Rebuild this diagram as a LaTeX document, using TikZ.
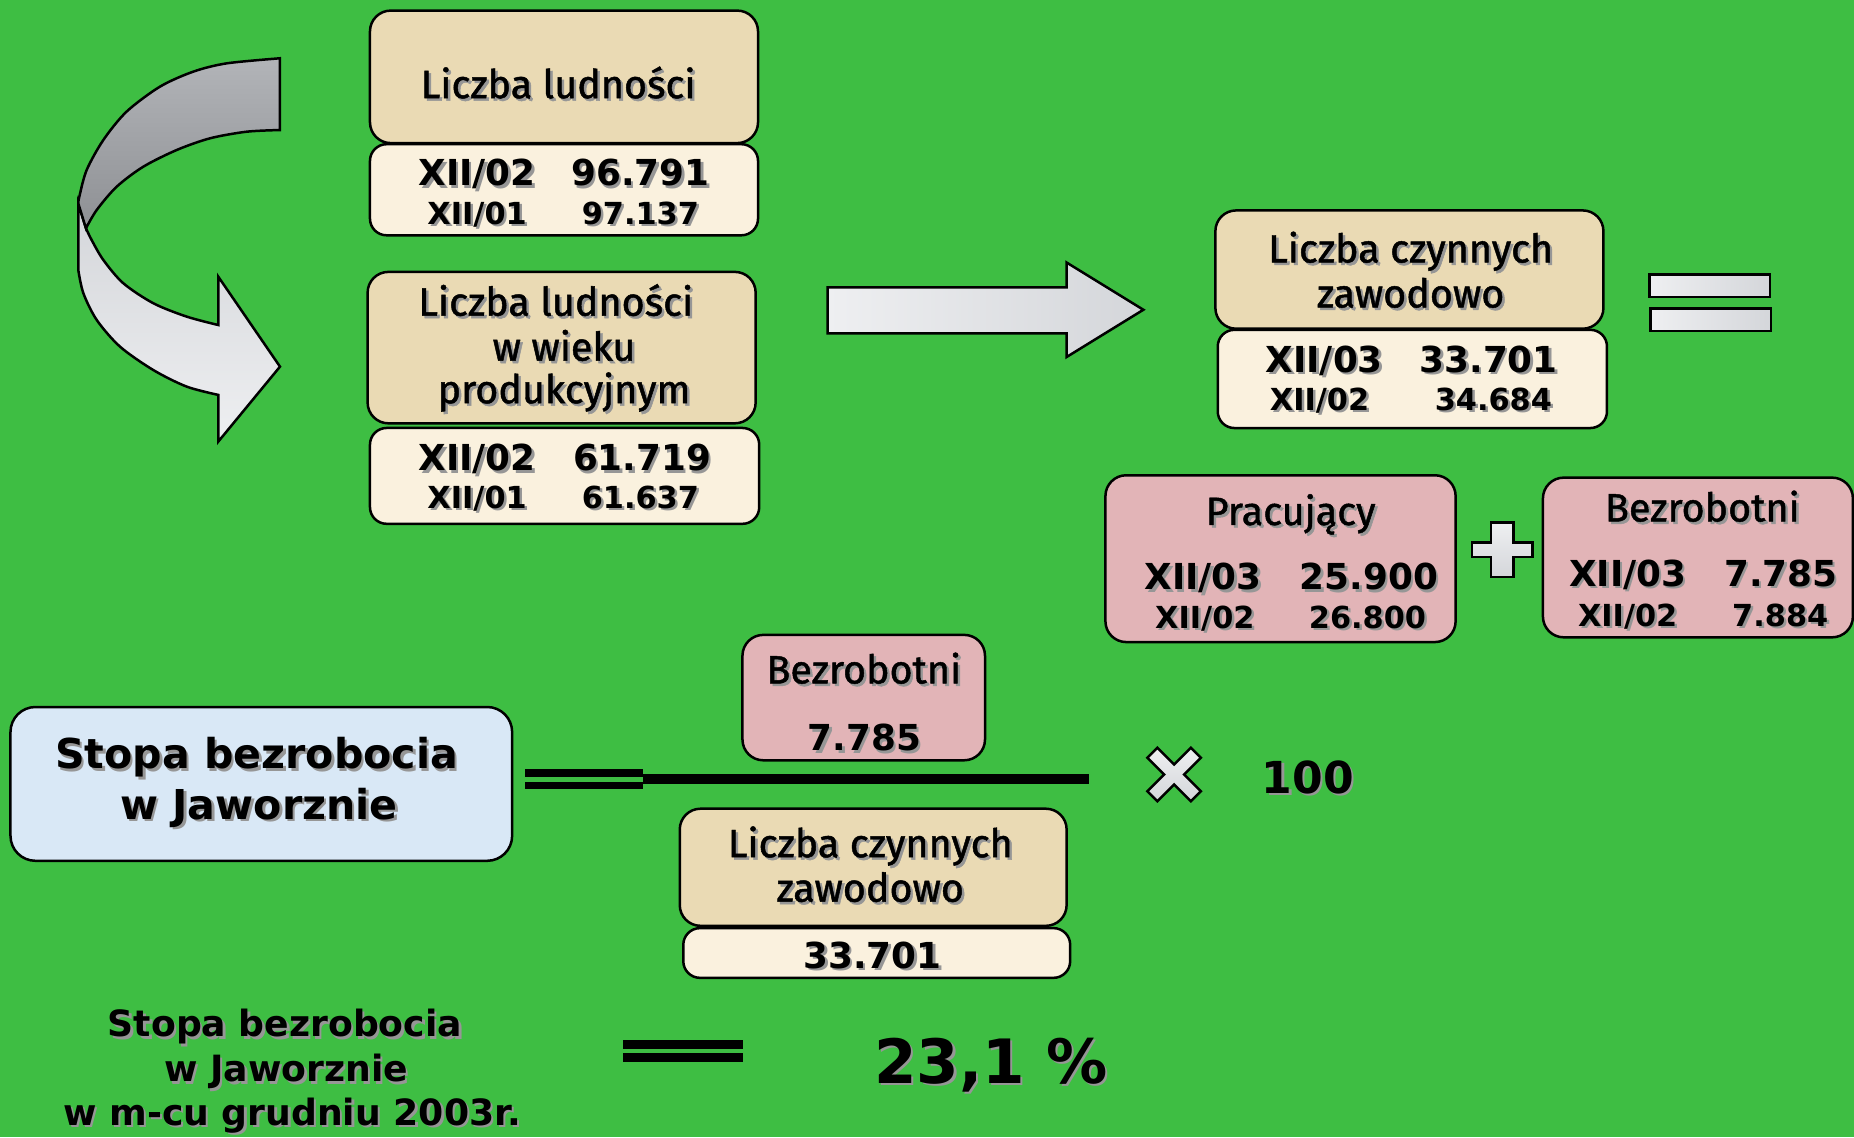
\documentclass[tikz,border=0pt]{standalone}
\usepackage{fontspec}
\setmainfont{DejaVu Sans}
\newfontfamily\comicfont{Fira Sans}[FakeBold=1.2]
\definecolor{bggreen}{RGB}{62,190,67}
\definecolor{tanc}{RGB}{234,218,180}
\definecolor{creamc}{RGB}{250,241,222}
\definecolor{pinkc}{RGB}{226,180,183}
\definecolor{bluec}{RGB}{217,232,246}
\definecolor{shgray}{RGB}{150,150,150}
\definecolor{mdark}{RGB}{142,144,148}
\definecolor{mmid}{RGB}{178,180,184}
\definecolor{mlightA}{RGB}{212,214,218}
\definecolor{mlightB}{RGB}{238,239,241}
\newcommand\shd[1]{\leavevmode\rlap{\hspace*{0.6pt}\raisebox{-0.6pt}{\textcolor{shgray}{#1}}}#1}
\begin{document}
\begin{tikzpicture}[x=0.01cm,y=-0.01cm,
  box/.style={draw=black,line width=0.6pt,rounded corners=5pt,inner sep=0pt},
  tanbox/.style={box,fill=tanc},
  creambox/.style={box,fill=creamc,rounded corners=4pt},
  pinkbox/.style={box,fill=pinkc},
  bluebox/.style={box,fill=bluec,rounded corners=6pt},
  cmt/.style={font=\comicfont\fontsize{9.5}{11}\selectfont,anchor=base,inner sep=0pt},
  big/.style={font=\bfseries\fontsize{8.6}{10}\selectfont,anchor=base,inner sep=0pt},
  sml/.style={font=\bfseries\fontsize{7.3}{9}\selectfont,anchor=base,inner sep=0pt},
  stp/.style={font=\bfseries\fontsize{9.9}{11}\selectfont,anchor=base,inner sep=0pt},
  stb/.style={font=\bfseries\fontsize{8.7}{10}\selectfont,anchor=base,inner sep=0pt},
  shp/.style={draw=black,line width=0.6pt}]
\fill[bggreen] (0,0) rectangle (1568,962);
\useasboundingbox (0,0) rectangle (1568,962);

% curved arrow: light lower ribbon with head
\shadedraw[shp,top color=mlightA,bottom color=mlightB]
  (66.2,172) -- (66.2,228.3)
  -- plot[smooth] coordinates {(66.2,228.3) (70.5,248) (81.8,270.6) (101.5,293.2) (129.7,313) (157.9,327) (184.6,334)}
  -- (184.6,373.5) -- (236.8,310.1) -- (184.6,234) -- (184.6,274.9)
  -- plot[smooth] coordinates {(184.6,274.9) (157.9,267.8) (129.7,256.5) (104.3,239.6) (87.4,219.9) (77.5,203) (72.7,193.1)}
  -- cycle;
% curved arrow: dark upper ribbon
\shadedraw[shp,top color=mmid,bottom color=mdark]
  (236.8,49.3)
  -- plot[smooth] coordinates {(236.8,49.3) (191.7,53.6) (163.5,60.6) (135.3,73.3) (107.1,94.4) (87.4,118.4) (73.3,143.8) (67.1,166.3) (66.2,172)}
  -- (72.7,193.1)
  -- plot[smooth] coordinates {(72.7,193.1) (81.8,177.6) (98.7,157.9) (121.2,141) (149.4,126.9) (177.6,117) (208.6,111.4) (236.8,110)}
  -- cycle;

% straight arrow
\shadedraw[shp,left color=mlightB,right color=mlightA]
  (700,243) -- (902,243) -- (902,222) -- (967,262) -- (902,302) -- (902,282) -- (700,282) -- cycle;

% equals sign (right)
\shadedraw[shp,left color=mlightB,right color=mlightA] (1395,232) rectangle (1497,251);
\shadedraw[shp,left color=mlightB,right color=mlightA] (1396,261) rectangle (1498,280);

% plus sign
\shadedraw[shp,top color=mlightB,bottom color=mlightA]
  (1261,442) -- (1280,442) -- (1280,459) -- (1296,459) -- (1296,471) -- (1280,471) -- (1280,488)
  -- (1261,488) -- (1261,471) -- (1245,471) -- (1245,459) -- (1261,459) -- cycle;

% times sign
\begin{scope}[shift={(993,655)},rotate=45]
\shadedraw[shp,top color=mlightB,bottom color=mlightA]
  (-6,-26) -- (6,-26) -- (6,-6) -- (26,-6) -- (26,6) -- (6,6) -- (6,26) -- (-6,26)
  -- (-6,6) -- (-26,6) -- (-26,-6) -- (-6,-6) -- cycle;
\end{scope}

% bars
\fill[black] (444,650) rectangle (544,657);
\fill[black] (444,661) rectangle (544,667);
\fill[black] (544,655) rectangle (921,663);
\fill[black] (527,880) rectangle (628,887);
\fill[black] (527,891) rectangle (628,898);

% boxes
\node[tanbox,minimum width=3.28cm,minimum height=1.12cm] (b1) at (477,65) {};
\node[creambox,minimum width=3.28cm,minimum height=0.77cm] (n1) at (477,160.5) {};
\node[tanbox,minimum width=3.28cm,minimum height=1.28cm] (b2) at (475,294) {};
\node[creambox,minimum width=3.29cm,minimum height=0.81cm] (n2) at (477.5,402.5) {};
\node[tanbox,minimum width=3.28cm,minimum height=1.00cm] (b5) at (1192,228) {};
\node[creambox,minimum width=3.29cm,minimum height=0.83cm] (n3) at (1194.5,320.5) {};
\node[pinkbox,minimum width=2.96cm,minimum height=1.41cm] (pr) at (1083,472.5) {};
\node[pinkbox,minimum width=2.62cm,minimum height=1.35cm] (bz) at (1436,471.5) {};
\node[pinkbox,minimum width=2.05cm,minimum height=1.06cm] (bs) at (730.5,590) {};
\node[bluebox,minimum width=4.24cm,minimum height=1.30cm] (st) at (221,663) {};
\node[tanbox,minimum width=3.27cm,minimum height=0.99cm] (b6) at (738.5,733.5) {};
\node[creambox,minimum width=3.27cm,minimum height=0.42cm] (n4) at (741.5,806) {};

% texts
\node[cmt] (t1) at (472,83) {\shd{Liczba ludności}};
\node[big] (t2a) at (403.5,157) {\shd{XII/02}};
\node[big] (t2b) at (541.6,157) {\shd{96.791}};
\node[sml] (t3a) at (403.5,189.5) {\shd{XII/01}};
\node[sml] (t3b) at (541.6,189.5) {\shd{97.137}};

\node[cmt] (t4) at (470,267) {\shd{Liczba ludności}};
\node[cmt] (t5) at (477,305) {\shd{w wieku}};
\node[cmt] (t6) at (477,341) {\shd{produkcyjnym}};
\node[big] (t7a) at (403.5,398) {\shd{XII/02}};
\node[big] (t7b) at (543,398) {\shd{61.719}};
\node[sml] (t8a) at (403.5,430) {\shd{XII/01}};
\node[sml] (t8b) at (541.6,430) {\shd{61.637}};

\node[cmt] (t9) at (1193,222) {\shd{Liczba czynnych}};
\node[cmt] (t10) at (1193,260) {\shd{zawodowo}};
\node[big] (t11a) at (1120,315) {\shd{XII/03}};
\node[big] (t11b) at (1259,315) {\shd{33.701}};
\node[sml] (t12a) at (1116,347) {\shd{XII/02}};
\node[sml] (t12b) at (1263,347) {\shd{34.684}};

\node[cmt] (t13) at (1091.5,444) {\shd{Pracujący}};
\node[big] (t14a) at (1017.6,499) {\shd{XII/03}};
\node[big] (t14b) at (1157.8,499) {\shd{25.900}};
\node[sml] (t15a) at (1019,531.4) {\shd{XII/02}};
\node[sml] (t15b) at (1156.5,531.4) {\shd{26.800}};

\node[cmt] (t16) at (1439.7,441) {\shd{Bezrobotni}};
\node[big] (t17a) at (1376.6,496) {\shd{XII/03}};
\node[big] (t17b) at (1506,496) {\shd{7.785}};
\node[sml] (t18a) at (1376.6,529.5) {\shd{XII/02}};
\node[sml] (t18b) at (1505.6,529.5) {\shd{7.884}};

\node[cmt] (t19) at (730.5,578) {\shd{Bezrobotni}};
\node[big] (t20) at (731,635) {\shd{7.785}};

\node[stp] (t21) at (217,650) {\shd{Stopa bezrobocia}};
\node[stp] (t22) at (219,693) {\shd{w Jaworznie}};

\node[cmt] (t23) at (736,725) {\shd{Liczba czynnych}};
\node[cmt] (t24) at (736,762.6) {\shd{zawodowo}};
\node[big] (t25) at (738,819) {\shd{33.701}};

\node[font=\bfseries\fontsize{10.6}{12}\selectfont,anchor=base,inner sep=0pt] (t26) at (1106,671) {\shd{100}};

\node[stb] (t27) at (241,876.7) {\shd{Stopa bezrobocia}};
\node[stb] (t28) at (242,914.8) {\shd{w Jaworznie}};
\node[stb] (t29) at (247,951.5) {\shd{w m-cu grudniu 2003r.}};

\node[font=\bfseries\fontsize{14.7}{16}\selectfont,anchor=base,inner sep=0pt] (t30) at (838,916) {\shd{23,1 \%}};
\end{tikzpicture}
\end{document}
